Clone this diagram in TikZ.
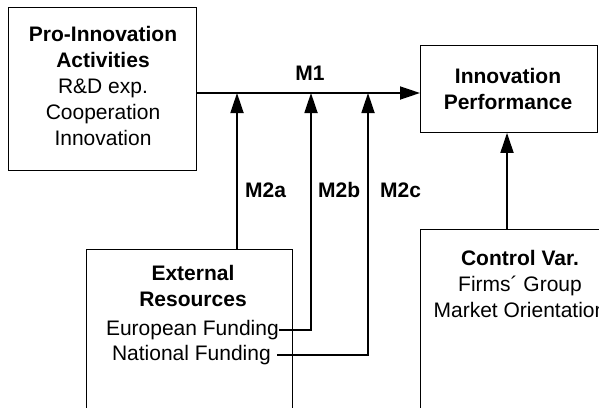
\documentclass[tikz,border=0pt]{standalone}
\usepackage{fontspec}
\setmainfont{Liberation Sans}
\usetikzlibrary{arrows.meta}
\begin{document}
\begin{tikzpicture}[x=1pt,y=-1pt,
  box/.style={draw,line width=0.9pt,inner sep=0pt,anchor=north west},
  txt/.style={inner sep=0pt,align=center,font=\fontsize{21}{26}\selectfont},
  lbl/.style={inner sep=0pt,font=\fontsize{21}{24}\selectfont\bfseries},
  link/.style={line width=1.8pt},
  flow/.style={link,-{Triangle[length=20pt,width=13pt]}}]
\useasboundingbox (0,0) rectangle (599,407);
\begin{scope}
\clip (0,0) rectangle (599,407);
% boxes
\node[box,minimum width=188pt,minimum height=163pt] (pro) at (8,7) {};
\node[box,minimum width=177pt,minimum height=87pt] (perf) at (420,45) {};
\node[box,minimum width=206pt,minimum height=180pt] (ext) at (86,249) {};
\node[box,minimum width=194pt,minimum height=200pt] (ctrl) at (420,229) {};
% box texts
\node[txt] (protxt) at (103,86) {\textbf{Pro-Innovation}\\\textbf{Activities}\\R\&D exp.\\Cooperation\\Innovation};
\node[txt] (perftxt) at (508,89) {\textbf{Innovation}\\\textbf{Performance}};
\node[txt] (exttxt) at (193,285.5) {\textbf{External}\\\textbf{Resources}};
\node[txt,anchor=east] (eu) at (279,330) {European Funding};
\node[txt,anchor=east] (nat) at (271,355) {National Funding};
\node[txt] (ctrltxt) at (520,284) {\textbf{Control Var.}\\Firms´ Group\\Market Orientation};
% junction points on the main path
\coordinate (ja) at (237,93);
\coordinate (jb) at (311,93);
\coordinate (jc) at (368,93);
% connectors
\draw[flow] (pro.east |- ja) -- (perf.west |- ja);
\draw[flow] (ext.north -| ja) -- (ja);
\draw[flow] (eu.east) -- (eu.east -| jb) -- (jb);
\draw[flow] ([xshift=6pt]nat.east) -- (nat.east -| jc) -- (jc);
\draw[flow] (ctrl.north -| 507,0) -- (perf.south -| 507,0);
% labels
\node[lbl] (m1) at (310,73) {M1};
\node[lbl,anchor=west] (m2a) at (245,190) {M2a};
\node[lbl,anchor=west] (m2b) at (318,190) {M2b};
\node[lbl,anchor=west] (m2c) at (380,190) {M2c};
\end{scope}
\end{tikzpicture}
\end{document}
